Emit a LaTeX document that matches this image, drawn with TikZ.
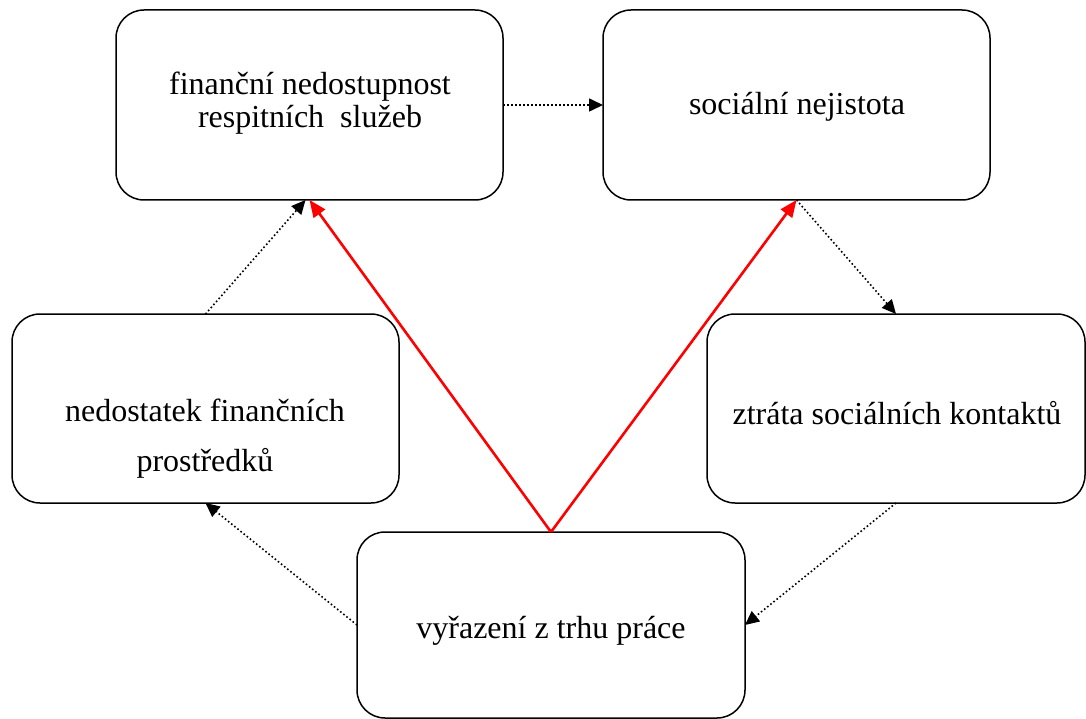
\documentclass[tikz,border=0pt]{standalone}
\usepackage{fontspec}
\setmainfont{Liberation Serif}
\usepackage{tikz}
\usetikzlibrary{arrows.meta}

\begin{document}
\begin{tikzpicture}[x=1pt,y=-1pt,
  box/.style={draw,line width=1.5pt,rounded corners=28pt,inner sep=0pt,outer sep=0pt},
  txt/.style={anchor=base,inner sep=0pt,font=\fontsize{32}{36}\selectfont},
  dotline/.style={line width=1.6pt,dash pattern=on 1.6pt off 2.4pt,-{Triangle[length=14pt,width=13pt]}},
  redline/.style={red,line width=2.6pt,-{Triangle[length=17pt,width=14pt]}}]
  \useasboundingbox (0,0) rectangle (1086,719);
  % boxes
  \node[box,minimum width=387pt,minimum height=190pt] (nA) at (309.5,105) {};
  \node[box,minimum width=387pt,minimum height=190pt] (nB) at (796.5,105) {};
  \node[box,minimum width=387pt,minimum height=189pt] (nC) at (205.5,408.5) {};
  \node[box,minimum width=378pt,minimum height=189pt] (nD) at (896,408.5) {};
  \node[box,minimum width=388pt,minimum height=186pt] (nE) at (551,625) {};
  % texts
  \node[txt] (tA1) at (310,95) {finanční nedostupnost};
  \node[txt] (tA2) at (310,128) {respitních \ služeb};
  \node[txt] (tB) at (797,115) {sociální nejistota};
  \node[txt] (tC1) at (205,421) {nedostatek finančních};
  \node[txt] (tC2) at (205,471) {prostředků};
  \node[txt] (tD) at (897,424) {ztráta sociálních kontaktů};
  \node[txt] (tE) at (551,638) {vyřazení z trhu práce};
  % cycle
  \draw[dotline] (nA.east) -- (nB.west);
  \draw[dotline] (nB.south) -- (nD.north);
  \draw[dotline] (nD.south) -- (nE.east);
  \draw[dotline] (nE.west) -- (nC.south);
  \draw[dotline] (nC.north) -- ([xshift=-4pt]nA.south);
  % red
  \draw[redline] (nE.north) -- (nA.south);
  \draw[redline] (nE.north) -- (nB.south);
\end{tikzpicture}
\end{document}
